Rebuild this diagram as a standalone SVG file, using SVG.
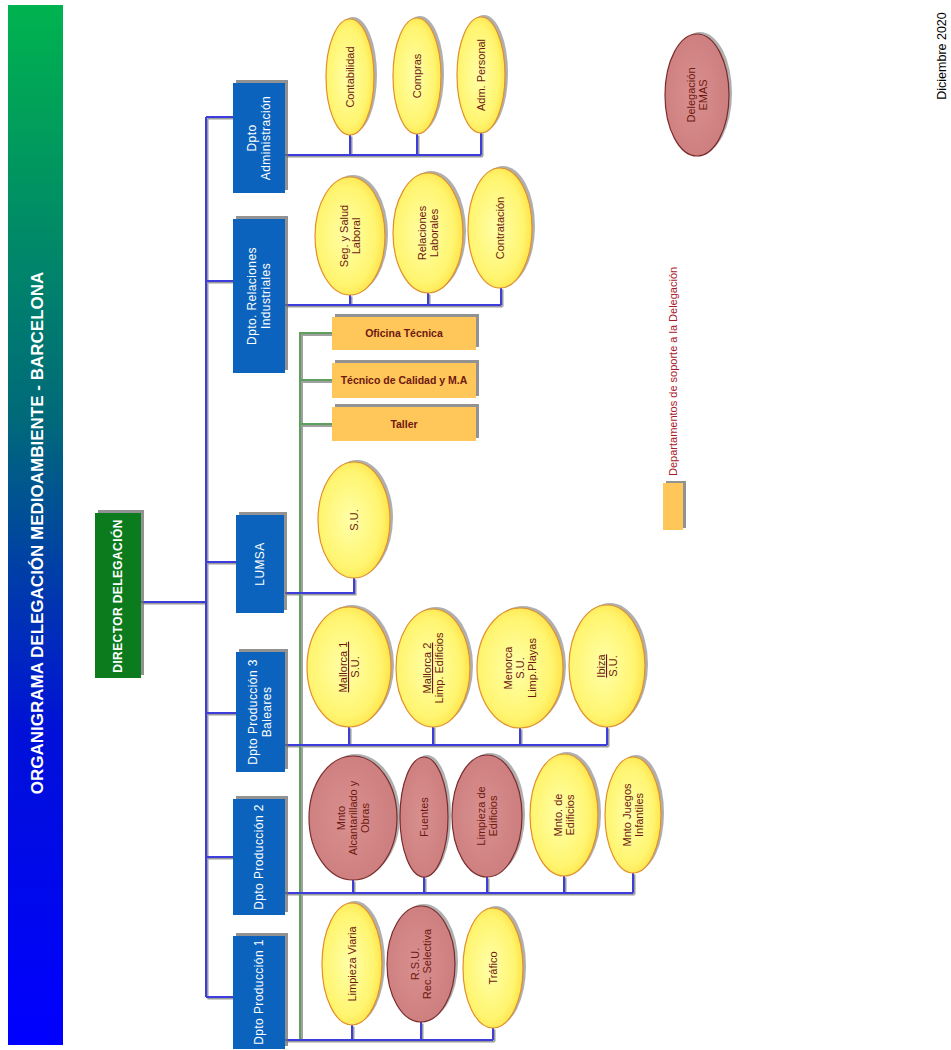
<svg xmlns="http://www.w3.org/2000/svg" width="951" height="1050" viewBox="0 0 951 1050">
<defs>
<linearGradient id="gTitle" x1="0" y1="0" x2="0" y2="1">
<stop offset="0" stop-color="#00b34f"/>
<stop offset="0.4" stop-color="#00697a"/>
<stop offset="0.7" stop-color="#0010d8"/>
<stop offset="1" stop-color="#0000ff"/>
</linearGradient>
<radialGradient id="gYel" cx="0.45" cy="0.5" r="0.6">
<stop offset="0" stop-color="#ffffa8"/>
<stop offset="0.7" stop-color="#fff570"/>
<stop offset="1" stop-color="#ffdd3c"/>
</radialGradient>
<radialGradient id="gPink" cx="0.45" cy="0.5" r="0.6">
<stop offset="0" stop-color="#d99090"/>
<stop offset="1" stop-color="#cc7c7c"/>
</radialGradient>
</defs>
<style>
.t{font-family:"Liberation Sans",Arial,sans-serif}
.title{font-size:17px;font-weight:bold;fill:#fff}
.dept{font-size:12px;fill:#fff;letter-spacing:0.4px}
.el{font-size:11px;fill:#6e1810}
.ob{font-size:10.5px;font-weight:bold;fill:#6e1810}
.box{fill:#0b63be}
.bsh{fill:#6d6d6d;opacity:0.75}
.esh{fill:#7a7a7a;opacity:0.6}
.yel{fill:url(#gYel);stroke:#e0902c;stroke-width:1.2}
.pink{fill:url(#gPink);stroke:#7b2b2b;stroke-width:1.2}
.org{fill:#ffc65a}
.ln{fill:none;stroke:#3d3ddc;stroke-width:2}
.lsh{fill:none;stroke:#9a9a9a;stroke-width:2}
.gl{fill:none;stroke:#5e9e5e;stroke-width:2}
.gsh{fill:none;stroke:#a0a0a0;stroke-width:2}
</style>

<g id="title">
<rect x="8" y="5" width="55" height="1040" fill="url(#gTitle)"/>
<text class="t title" transform="translate(37,533) rotate(-90)" text-anchor="middle" y="6">ORGANIGRAMA DELEGACIÓN MEDIOAMBIENTE - BARCELONA</text>
</g>

<g id="date">
<text class="t" font-size="12.5" fill="#000" transform="translate(942,56) rotate(-90)" text-anchor="middle" y="4">Diciembre 2020</text>
</g>

<g id="connectors">
<g transform="translate(1.5,1.5)">
<path class="lsh" d="M141,602 H206 M206,117 V997 M206,117 H233 M206,281 H233 M206,562 H236 M206,713 H236 M206,857 H233 M206,997 H233"/>
<path class="lsh" d="M285,155 H481 M350,135 V155 M417,134 V155 M481,132 V155"/>
<path class="lsh" d="M285,305 H501 M350,295 V305 M428,293 V305 M501,288 V305"/>
<path class="lsh" d="M285,593 H354 V578"/>
<path class="lsh" d="M285,745 H607 M349,727 V745 M433,726 V745 M520,728 V745 M607,727 V745"/>
<path class="lsh" d="M285,893 H633 M353,880 V893 M424,877 V893 M487,877 V893 M564,876 V893 M633,873 V893"/>
<path class="lsh" d="M285,1040 H493 M352,1025 V1040 M421,1022 V1040 M493,1028 V1040"/>
</g>
<path class="gsh" d="M302,1040 V335 H332 M302,382 H332 M302,426 H332"/>
<path class="gl" d="M300,1040 V333 H332 M300,380 H332 M300,424 H332"/>
<path class="ln" d="M141,602 H206 M206,117 V997 M206,117 H233 M206,281 H233 M206,562 H236 M206,713 H236 M206,857 H233 M206,997 H233"/>
<path class="ln" d="M285,155 H481 M350,135 V155 M417,134 V155 M481,132 V155"/>
<path class="ln" d="M285,305 H501 M350,295 V305 M428,293 V305 M501,288 V305"/>
<path class="ln" d="M285,593 H354 V578"/>
<path class="ln" d="M285,745 H607 M349,727 V745 M433,726 V745 M520,728 V745 M607,727 V745"/>
<path class="ln" d="M285,893 H633 M353,880 V893 M424,877 V893 M487,877 V893 M564,876 V893 M633,873 V893"/>
<path class="ln" d="M285,1040 H493 M352,1025 V1040 M421,1022 V1040 M493,1028 V1040"/>
</g>

<g id="director">
<rect x="98" y="510" width="46" height="165" class="bsh"/>
<rect x="95" y="513" width="46" height="165" fill="#0c7b1e"/>
<text class="t dept" font-size="11.5" font-weight="bold" letter-spacing="0.8" transform="translate(118,596) rotate(-90)" text-anchor="middle" y="4">DIRECTOR DELEGACIÓN</text>
</g>

<g id="dpto-admin">
<rect x="236" y="80" width="52" height="110" class="bsh"/>
<rect x="233" y="83" width="52" height="110" class="box"/>
<text class="t dept" transform="translate(259,138) rotate(-90)" text-anchor="middle"><tspan x="0" y="-3">Dpto</tspan><tspan x="0" y="11">Administración</tspan></text>
</g>
<g id="dpto-relind">
<rect x="236" y="216" width="52" height="154" class="bsh"/>
<rect x="233" y="219" width="52" height="154" class="box"/>
<text class="t dept" transform="translate(259,296) rotate(-90)" text-anchor="middle"><tspan x="0" y="-3">Dpto. Relaciones</tspan><tspan x="0" y="11">Industriales</tspan></text>
</g>
<g id="lumsa">
<rect x="239" y="512" width="48" height="98" class="bsh"/>
<rect x="236" y="515" width="48" height="98" class="box"/>
<text class="t dept" font-size="10.5" transform="translate(260,564) rotate(-90)" text-anchor="middle" y="4">LUMSA</text>
</g>
<g id="dpto-prod3">
<rect x="239" y="649" width="49" height="120" class="bsh"/>
<rect x="236" y="652" width="49" height="120" class="box"/>
<text class="t dept" transform="translate(260,712) rotate(-90)" text-anchor="middle"><tspan x="0" y="-3">Dpto Producción 3</tspan><tspan x="0" y="11">Baleares</tspan></text>
</g>
<g id="dpto-prod2">
<rect x="236" y="796" width="52" height="116" class="bsh"/>
<rect x="233" y="799" width="52" height="116" class="box"/>
<text class="t dept" transform="translate(259,857) rotate(-90)" text-anchor="middle" y="4">Dpto Producción 2</text>
</g>
<g id="dpto-prod1">
<rect x="236" y="933" width="52" height="113" class="bsh"/>
<rect x="233" y="936" width="52" height="113" class="box"/>
<text class="t dept" transform="translate(259,992) rotate(-90)" text-anchor="middle" y="4">Dpto Producción 1</text>
</g>

<g id="contabilidad">
<ellipse cx="353" cy="75" rx="24" ry="58" class="esh"/>
<ellipse cx="350" cy="77" rx="24" ry="58" class="yel"/>
<text class="t el" transform="translate(350,77) rotate(-90)" text-anchor="middle" y="4">Contabilidad</text>
</g>
<g id="compras">
<ellipse cx="420" cy="74" rx="24" ry="58" class="esh"/>
<ellipse cx="417" cy="76" rx="24" ry="58" class="yel"/>
<text class="t el" transform="translate(417,76) rotate(-90)" text-anchor="middle" y="4">Compras</text>
</g>
<g id="adm-personal">
<ellipse cx="484" cy="73" rx="24" ry="58" class="esh"/>
<ellipse cx="481" cy="75" rx="24" ry="58" class="yel"/>
<text class="t el" transform="translate(481,75) rotate(-90)" text-anchor="middle" y="4">Adm. Personal</text>
</g>

<g id="seg-salud">
<ellipse cx="353" cy="234" rx="35" ry="59" class="esh"/>
<ellipse cx="350" cy="236" rx="35" ry="59" class="yel"/>
<text class="t el" transform="translate(350,236) rotate(-90)" text-anchor="middle"><tspan x="0" y="-2">Seg. y Salud</tspan><tspan x="0" y="10">Laboral</tspan></text>
</g>
<g id="relaciones-laborales">
<ellipse cx="431" cy="231" rx="35" ry="60" class="esh"/>
<ellipse cx="428" cy="233" rx="35" ry="60" class="yel"/>
<text class="t el" transform="translate(428,233) rotate(-90)" text-anchor="middle"><tspan x="0" y="-2">Relaciones</tspan><tspan x="0" y="10">Laborales</tspan></text>
</g>
<g id="contratacion">
<ellipse cx="503" cy="226" rx="32" ry="60" class="esh"/>
<ellipse cx="500" cy="228" rx="32" ry="60" class="yel"/>
<text class="t el" transform="translate(500,228) rotate(-90)" text-anchor="middle" y="4">Contratación</text>
</g>

<g id="oficina-tecnica">
<rect x="335" y="314" width="144" height="33" class="bsh"/>
<rect x="332" y="317" width="144" height="33" class="org"/>
<text class="t ob" x="404" y="337" text-anchor="middle">Oficina Técnica</text>
</g>
<g id="tecnico-calidad">
<rect x="335" y="360" width="144" height="36" class="bsh"/>
<rect x="332" y="363" width="144" height="35" class="org"/>
<text class="t ob" x="404" y="384" text-anchor="middle">Técnico de Calidad y M.A</text>
</g>
<g id="taller">
<rect x="335" y="404" width="144" height="34" class="bsh"/>
<rect x="332" y="407" width="144" height="34" class="org"/>
<text class="t ob" x="404" y="428" text-anchor="middle">Taller</text>
</g>

<g id="lumsa-su">
<ellipse cx="357" cy="518" rx="36" ry="58" class="esh"/>
<ellipse cx="354" cy="520" rx="36" ry="58" class="yel"/>
<text class="t el" transform="translate(354,520) rotate(-90)" text-anchor="middle" y="4">S.U.</text>
</g>

<g id="mallorca1">
<ellipse cx="352" cy="665" rx="42" ry="60" class="esh"/>
<ellipse cx="349" cy="667" rx="42" ry="60" class="yel"/>
<text class="t el" transform="translate(349,667) rotate(-90)" text-anchor="middle"><tspan x="0" y="-2" text-decoration="underline">Mallorca 1</tspan><tspan x="0" y="10">S.U.</tspan></text>
</g>
<g id="mallorca2">
<ellipse cx="436" cy="666" rx="37" ry="59" class="esh"/>
<ellipse cx="433" cy="668" rx="37" ry="59" class="yel"/>
<text class="t el" transform="translate(433,668) rotate(-90)" text-anchor="middle"><tspan x="0" y="-2" text-decoration="underline">Mallorca 2</tspan><tspan x="0" y="10">Limp. Edificios</tspan></text>
</g>
<g id="menorca">
<ellipse cx="523" cy="666" rx="43" ry="60" class="esh"/>
<ellipse cx="520" cy="668" rx="43" ry="60" class="yel"/>
<text class="t el" transform="translate(520,668) rotate(-90)" text-anchor="middle"><tspan x="0" y="-8">Menorca</tspan><tspan x="0" y="4">S.U.</tspan><tspan x="0" y="16">Limp.Playas</tspan></text>
</g>
<g id="ibiza">
<ellipse cx="610" cy="664" rx="38" ry="61" class="esh"/>
<ellipse cx="607" cy="666" rx="38" ry="61" class="yel"/>
<text class="t el" transform="translate(607,666) rotate(-90)" text-anchor="middle"><tspan x="0" y="-2" text-decoration="underline">Ibiza</tspan><tspan x="0" y="10">S.U.</tspan></text>
</g>

<g id="mnto-alcantarillado">
<ellipse cx="356" cy="816" rx="44" ry="62" class="esh"/>
<ellipse cx="353" cy="818" rx="44" ry="62" class="pink"/>
<text class="t el" transform="translate(353,818) rotate(-90)" text-anchor="middle"><tspan x="0" y="-8">Mnto</tspan><tspan x="0" y="4">Alcantarillado y</tspan><tspan x="0" y="16">Obras</tspan></text>
</g>
<g id="fuentes">
<ellipse cx="427" cy="815" rx="24" ry="60" class="esh"/>
<ellipse cx="424" cy="817" rx="24" ry="60" class="pink"/>
<text class="t el" transform="translate(424,817) rotate(-90)" text-anchor="middle" y="4">Fuentes</text>
</g>
<g id="limpieza-edificios">
<ellipse cx="490" cy="814" rx="35" ry="61" class="esh"/>
<ellipse cx="487" cy="816" rx="35" ry="61" class="pink"/>
<text class="t el" transform="translate(487,816) rotate(-90)" text-anchor="middle"><tspan x="0" y="-2">Limpieza de</tspan><tspan x="0" y="10">Edificios</tspan></text>
</g>
<g id="mnto-edificios">
<ellipse cx="567" cy="813" rx="34" ry="61" class="esh"/>
<ellipse cx="564" cy="815" rx="34" ry="61" class="yel"/>
<text class="t el" transform="translate(564,815) rotate(-90)" text-anchor="middle"><tspan x="0" y="-2">Mnto. de</tspan><tspan x="0" y="10">Edificios</tspan></text>
</g>
<g id="mnto-juegos">
<ellipse cx="636" cy="813" rx="28" ry="58" class="esh"/>
<ellipse cx="633" cy="815" rx="28" ry="58" class="yel"/>
<text class="t el" transform="translate(633,815) rotate(-90)" text-anchor="middle"><tspan x="0" y="-2">Mnto Juegos</tspan><tspan x="0" y="10">Infantiles</tspan></text>
</g>

<g id="limpieza-viaria">
<ellipse cx="355" cy="962" rx="30" ry="61" class="esh"/>
<ellipse cx="352" cy="964" rx="30" ry="61" class="yel"/>
<text class="t el" transform="translate(352,964) rotate(-90)" text-anchor="middle" y="4">Limpieza Viaria</text>
</g>
<g id="rsu">
<ellipse cx="424" cy="962" rx="34" ry="58" class="esh"/>
<ellipse cx="421" cy="964" rx="34" ry="58" class="pink"/>
<text class="t el" transform="translate(421,964) rotate(-90)" text-anchor="middle"><tspan x="0" y="-2">R.S.U.</tspan><tspan x="0" y="10">Rec. Selectiva</tspan></text>
</g>
<g id="trafico">
<ellipse cx="496" cy="966" rx="30" ry="60" class="esh"/>
<ellipse cx="493" cy="968" rx="30" ry="60" class="yel"/>
<text class="t el" transform="translate(493,968) rotate(-90)" text-anchor="middle" y="4">Tráfico</text>
</g>

<g id="delegacion-emas">
<ellipse cx="700" cy="93" rx="32" ry="61" class="esh"/>
<ellipse cx="697" cy="95" rx="32" ry="61" class="pink"/>
<text class="t el" transform="translate(697,95) rotate(-90)" text-anchor="middle"><tspan x="0" y="-2">Delegación</tspan><tspan x="0" y="10">EMAS</tspan></text>
</g>

<g id="legend">
<rect x="666" y="481" width="20" height="47" class="bsh"/>
<rect x="663" y="483" width="20" height="47" class="org"/>
<text class="t" font-size="11" fill="#a8182a" transform="translate(677,476) rotate(-90)" y="0">Departamentos de soporte a la Delegación</text>
</g>
</svg>
